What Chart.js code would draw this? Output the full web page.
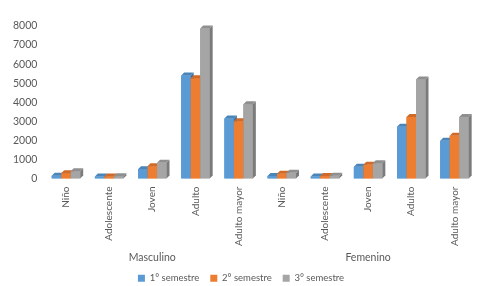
<!DOCTYPE html>
<html><head><meta charset="utf-8">
<script src="https://cdn.jsdelivr.net/npm/chart.js@4/dist/chart.umd.min.js"></script>
<style>html,body{margin:0;padding:0;background:#fff}#wrap{width:482px;height:286px}</style>
</head><body><div id="wrap"><canvas id="c" width="482" height="286"></canvas></div>
<script>
const categories = ['Niño','Adolescente','Joven','Adulto','Adulto mayor','Niño','Adolescente','Joven','Adulto','Adulto mayor'];
const groups = ['Masculino','Femenino'];
const seriesNames = ['1° semestre','2° semestre','3° semestre'];
const sem1 = [150, 100, 490, 5400, 3150, 130, 100, 620, 2720, 1980];
const sem2 = [280, 110, 640, 5260, 3000, 250, 130, 720, 3230, 2240];
const sem3 = [380, 120, 820, 7870, 3900, 300, 150, 800, 5200, 3230];
const yTicks = [0,1000,2000,3000,4000,5000,6000,7000,8000];

const colors = ['#5B9BD5','#ED7D31','#A5A5A5'];
const sideColors = ['#41719C','#AE5A21','#7B7B7B'];
const topColors = ['#4A85BA','#D06A28','#8F8F8F'];

const bar3d = {
  id:'bar3d',
  afterDatasetsDraw(chart){
    const ctx = chart.ctx;
    const d = 3;
    const metas = chart.data.datasets.map((_, i) => chart.getDatasetMeta(i));
    const n = chart.data.labels.length;
    ctx.save();
    for (let j = 0; j < n; j++) {
      metas.forEach((meta, i) => {
        const el = meta.data[j];
        if (!el) return;
        const p = el.getProps(['x','y','base','width'], true);
        const l = p.x - p.width/2, r = p.x + p.width/2;
        ctx.fillStyle = colors[i];
        ctx.fillRect(l, p.y, p.width, p.base - p.y);
        ctx.fillStyle = sideColors[i];
        ctx.beginPath();
        ctx.moveTo(r, p.y); ctx.lineTo(r+d, p.y-d); ctx.lineTo(r+d, p.base-d); ctx.lineTo(r, p.base);
        ctx.closePath(); ctx.fill();
        ctx.fillStyle = topColors[i];
        ctx.beginPath();
        ctx.moveTo(l, p.y); ctx.lineTo(l+d, p.y-d); ctx.lineTo(r+d, p.y-d); ctx.lineTo(r, p.y);
        ctx.closePath(); ctx.fill();
      });
    }
    ctx.restore();
  }
};

const data = {
  labels: categories,
  datasets: [sem1, sem2, sem3].map((v, i) => ({
    label: seriesNames[i], data: v, backgroundColor: colors[i],
    borderWidth: 0, xAxisID: 'x', yAxisID: 'y',
    barPercentage: 1.0, categoryPercentage: 0.66
  }))
};

const font = {family: 'Lato', size: 10.5};
const xfont = {family: 'Lato', size: 10};
const lfont = {family: 'Lato', size: 9.5};
new Chart(document.getElementById('c'), {
  type: 'bar',
  data,
  plugins: [bar3d],
  options: {
    responsive: false, animation: false, devicePixelRatio: 1,
    layout: {padding: {top: 26, right: 6, left: 6, bottom: -7}},
    plugins: {
      legend: {position: 'bottom', labels: {boxWidth: 7, boxHeight: 7, color: '#595959', font: lfont, padding: 11}},
      tooltip: {enabled: false}
    },
    scales: {
      x: {
        grid: {display: false, drawTicks: false}, border: {display: false},
        ticks: {color: '#595959', font: xfont, minRotation: 90, maxRotation: 90, padding: 8, autoSkip: false},
        afterFit: (s) => { s.height = 70; }
      },
      x2: {
        type: 'category', labels: groups, position: 'bottom',
        grid: {display: false, drawTicks: false}, border: {display: false},
        ticks: {color: '#595959', font, maxRotation: 0, padding: 3},
        afterFit: (s) => { s.height = 14; }
      },
      y: {
        min: 0, max: 8000,
        afterBuildTicks: (s) => { s.ticks = yTicks.map(v => ({value: v})); },
        grid: {display: false, drawTicks: false}, border: {display: false},
        ticks: {color: '#595959', font, padding: 7, autoSkip: false, callback: (v) => String(v)}
      }
    }
  }
});
</script></body></html>
